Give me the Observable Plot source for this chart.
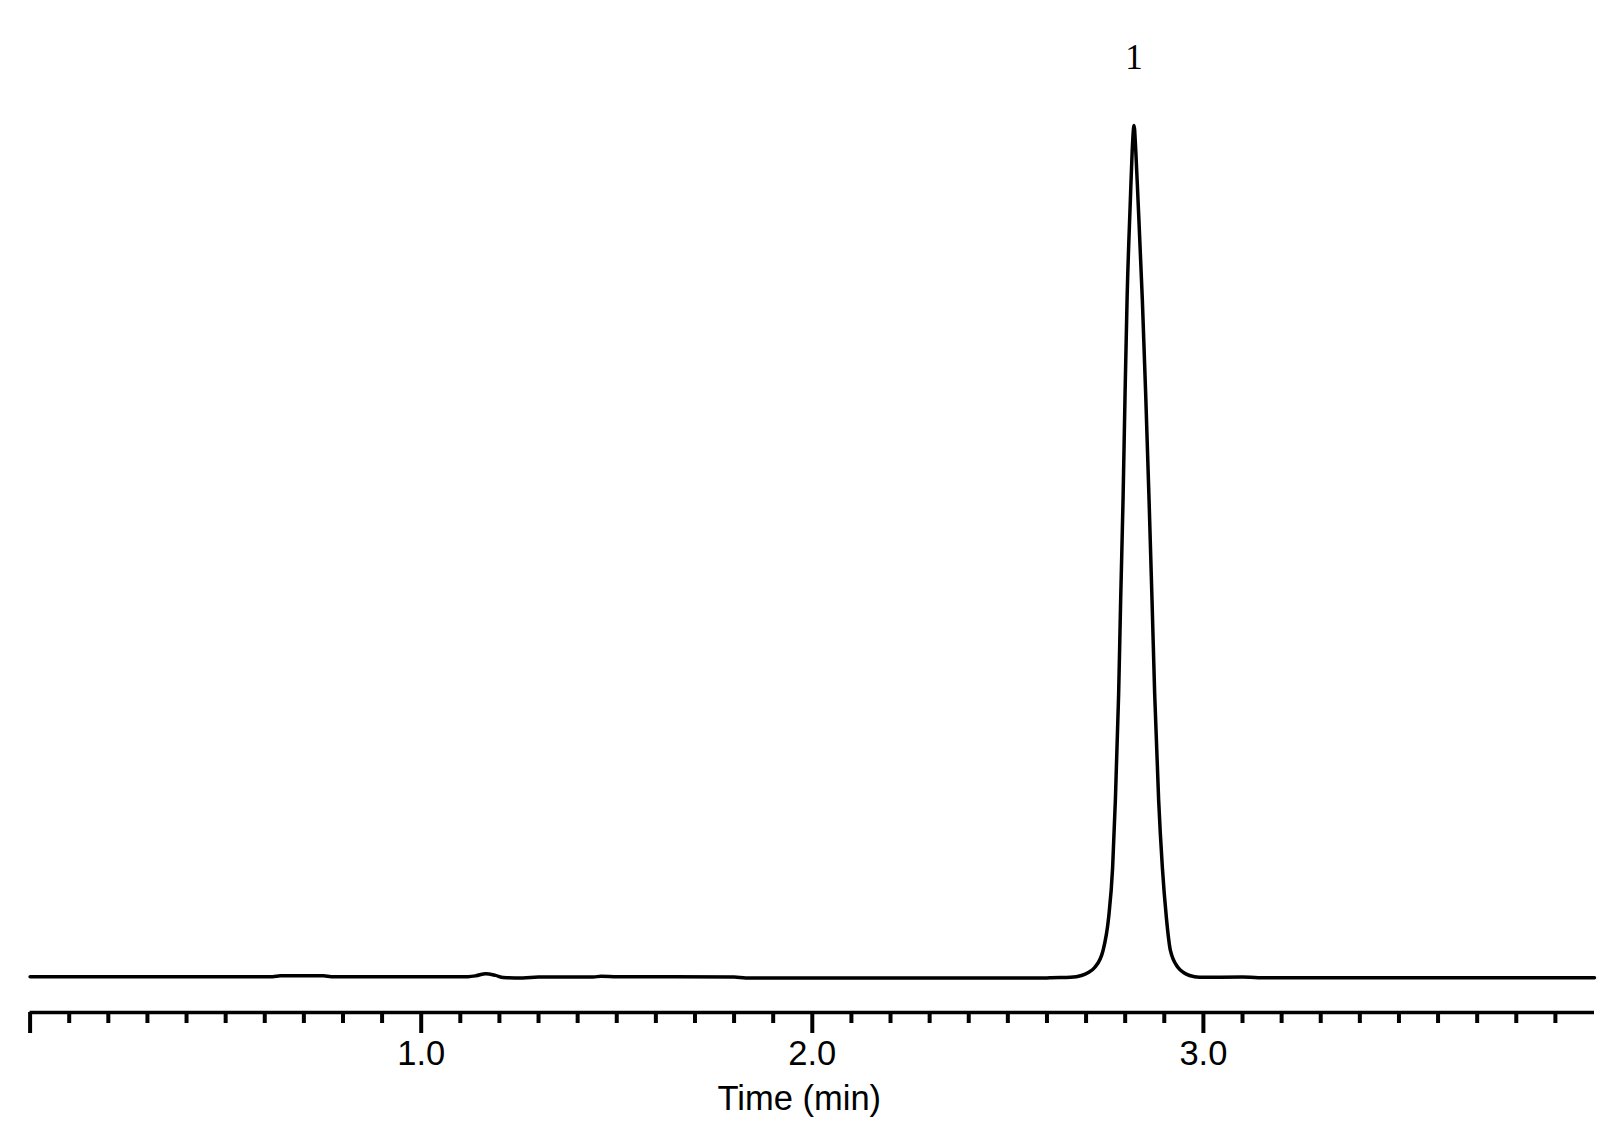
<!DOCTYPE html>
<html>
<head>
<meta charset="utf-8">
<script src="https://cdn.jsdelivr.net/npm/d3@7"></script>
<script src="https://cdn.jsdelivr.net/npm/@observablehq/plot@0.6"></script>
<style>
  html, body { margin: 0; padding: 0; background: #fff; }
</style>
</head>
<body>
<div id="chart"></div>
<script>
// Retention time (min)
const time = [
  0.00, 0.62, 0.64, 0.75, 0.77, 1.12, 1.14, 1.165, 1.19, 1.21, 1.26, 1.30,
  1.44, 1.46, 1.50, 1.80, 1.83, 2.60, 2.611, 2.66, 2.6882, 2.7058, 2.7219,
  2.7434, 2.7577, 2.7679, 2.7749, 2.7833, 2.7884, 2.7945, 2.7997, 2.8048,
  2.8132, 2.8180, 2.8227, 2.8270, 2.8329, 2.8439, 2.8524, 2.8611, 2.8687,
  2.8754, 2.8856, 2.8951, 2.9053, 2.9156, 2.9352, 2.949, 2.9646, 2.99,
  3.10, 3.14, 4.00
];
// Detector signal (relative, peak = 100)
const signal = [
  0.10, 0.10, 0.20, 0.20, 0.10, 0.10, 0.20, 0.45, 0.25, 0.00, -0.05, 0.05,
  0.05, 0.15, 0.10, 0.05, -0.05, -0.05, -0.03, 0.02, 0.23, 0.59, 1.17,
  3.17, 7.04, 12.9, 20.8, 33.3, 44.2, 56.0, 68.5, 79.5,
  91.2, 97.1, 100, 97.1, 91.2, 79.5, 68.5, 56.0, 44.2,
  33.3, 20.8, 12.9, 7.04, 3.17, 1.17, 0.59, 0.23, 0.03,
  0.05, -0.02, -0.02
];
// Peak annotations
const peakTime = [2.8227];
const peakSignal = [100];
const peakLabel = ["1"];
// Axis ticks
const majorTicks = [0, 1, 2, 3];
const minorTicks = d3.range(1, 40).map(i => i / 10).filter(v => Math.abs(v - Math.round(v)) > 1e-9);
const yFloor = -4.11;

const data = time.map((t, i) => ({t, s: signal[i]}));
const peaks = peakTime.map((t, i) => ({t, s: peakSignal[i], label: peakLabel[i]}));

const chart = Plot.plot({
  width: 1606,
  height: 1126,
  marginLeft: 29.6,
  marginRight: 12,
  marginTop: 125,
  marginBottom: 114,
  style: {fontFamily: "'Liberation Sans', Arial, sans-serif", fontSize: "34.5px", color: "#000", background: "#fff"},
  x: {domain: [0, 4]},
  y: {domain: [yFloor, 100], axis: null},
  marks: [
    Plot.ruleY([yFloor], {stroke: "#000", strokeWidth: 3.6}),
    Plot.axisX({ticks: minorTicks, tickSize: 11, strokeWidth: 4, tickFormat: () => "", label: null}),
    Plot.axisX({
      ticks: majorTicks, tickSize: 21, strokeWidth: 4, tickPadding: 7,
      tickFormat: d => d === 0 ? "" : d.toFixed(1), label: null, fontSize: 34.5
    }),
    Plot.text(["Time (min)"], {frameAnchor: "bottom", dx: -13, dy: 97, lineAnchor: "bottom", fontSize: 34.5, fill: "#000"}),
    Plot.line(data, {x: "t", y: "s", curve: "monotone-x", stroke: "#000", strokeWidth: 3.5}),
    Plot.text(peaks, {x: "t", y: "s", text: "label", dy: -57, lineAnchor: "bottom",
      fontFamily: "'Liberation Serif', 'Times New Roman', serif", fontSize: 35, fill: "#000"})
  ]
});
document.getElementById("chart").appendChild(chart);
</script>
</body>
</html>
